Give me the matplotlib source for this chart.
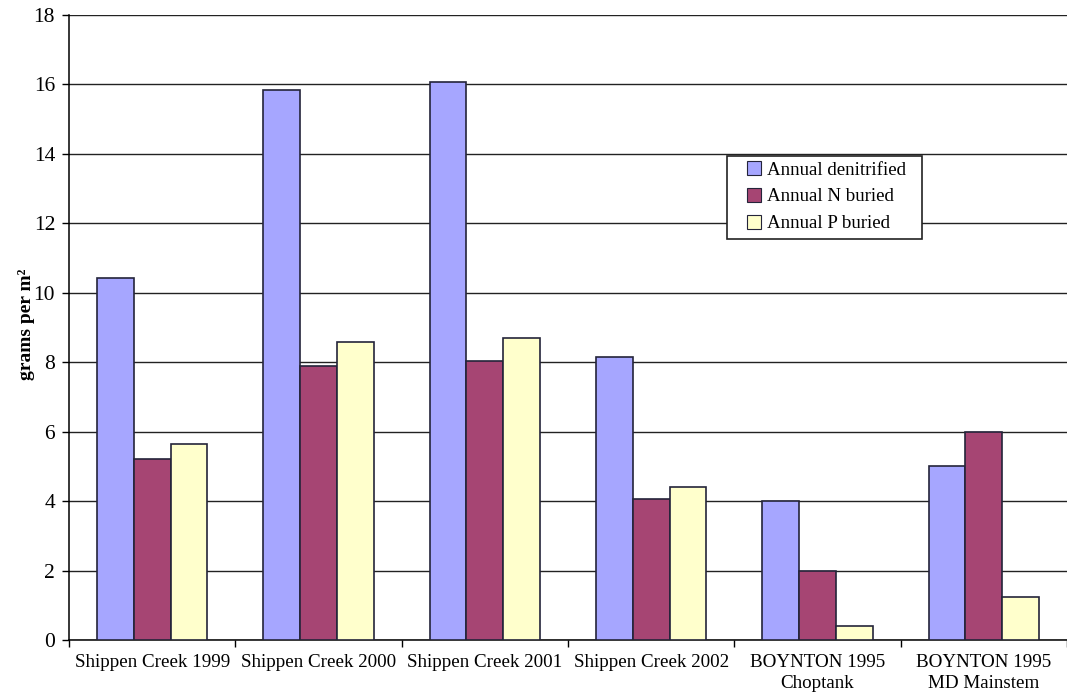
import matplotlib
matplotlib.use("Agg")
import matplotlib.pyplot as plt
from matplotlib.patches import Rectangle
import numpy as np

categories = ["Shippen Creek 1999", "Shippen Creek 2000", "Shippen Creek 2001",
              "Shippen Creek 2002", "BOYNTON 1995\nChoptank", "BOYNTON 1995\nMD Mainstem"]
denitrified = [10.42, 15.84, 16.07, 8.15, 4.0, 5.0]
n_buried = [5.2, 7.89, 8.04, 4.06, 2.0, 6.0]
p_buried = [5.65, 8.58, 8.7, 4.4, 0.4, 1.24]
series_labels = ["Annual denitrified", "Annual N buried", "Annual P buried"]
series_colors = ["#a6a6ff", "#a64573", "#ffffcc"]
yticks = [0, 2, 4, 6, 8, 10, 12, 14, 16, 18]

plt.rcParams["font.family"] = ["Liberation Serif", "DejaVu Serif"]

W, H = 1067, 698
fig = plt.figure(figsize=(W / 100, H / 100), dpi=100)
ax = fig.add_axes([69 / W, 58 / H, 998 / W, 625 / H])

x = np.arange(len(categories))
width = 0.221
for i, (vals, lab, col) in enumerate(zip([denitrified, n_buried, p_buried],
                                         series_labels, series_colors)):
    ax.bar(x + (i - 1) * width, vals, width, label=lab, color=col,
           edgecolor="#24243a", linewidth=1.2, zorder=3)

ax.set_xlim(-0.5, len(categories) - 0.5)
ax.set_ylim(0, 18)
ax.set_yticks(yticks)
ax.yaxis.grid(True, color="#222222", linewidth=1.0, zorder=0)
ax.set_axisbelow(True)

ax.set_xticks(np.arange(len(categories) + 1) - 0.5, minor=False)
ax.set_xticklabels([])
ax.set_xticks(x, minor=True)
ax.set_xticklabels(categories, minor=True, fontsize=13.7, linespacing=1.35)
ax.tick_params(axis="x", which="minor", length=0, pad=10)
ax.tick_params(axis="x", which="major", length=5, direction="out", width=1)
ax.tick_params(axis="y", length=5, direction="out", width=1, labelsize=15.5, pad=5)

for side in ("top", "right"):
    ax.spines[side].set_visible(False)
ax.spines["left"].set_linewidth(1.1)
ax.spines["bottom"].set_linewidth(1.1)

ax.set_ylabel("grams per m\u00b2", fontsize=14, fontweight="bold")
ax.yaxis.set_label_coords(-34 / 998, 0.505)

# legend box drawn as its own framed rectangle, entries inset within it
box_x0, box_x1, box_top, box_bot = 727, 922, 156, 239
frame = Rectangle((box_x0 / W, 1 - box_bot / H), (box_x1 - box_x0) / W,
                  (box_bot - box_top) / H, transform=fig.transFigure,
                  facecolor="white", edgecolor="#222222", linewidth=1.2, zorder=5)
fig.add_artist(frame)
leg = fig.legend(*ax.get_legend_handles_labels(), loc="upper left",
                 bbox_to_anchor=(747 / W, 1 - 161 / H),
                 frameon=False, fontsize=13.6, handlelength=0.75,
                 handleheight=0.75, handletextpad=0.3, labelspacing=0.5,
                 borderpad=0.0, borderaxespad=0)
leg.set_zorder(6)
for h in leg.legend_handles:
    h.set_linewidth(0.8)

fig.savefig("out.png", dpi=100)
